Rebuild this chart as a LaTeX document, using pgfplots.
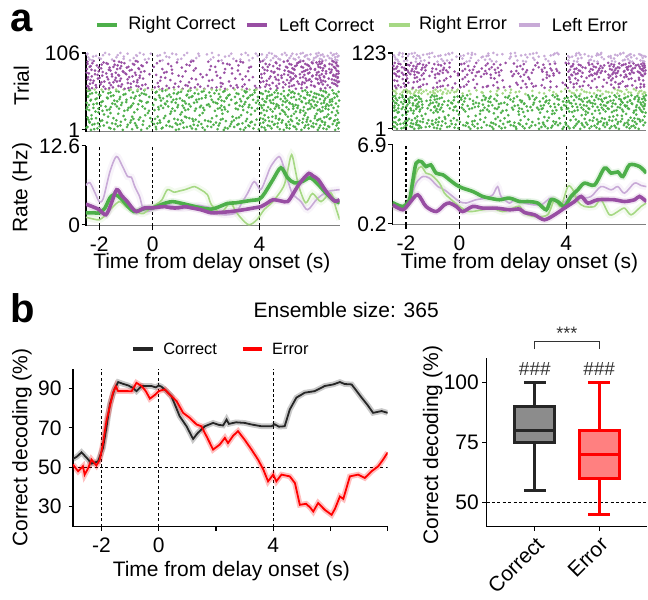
\documentclass[border=0pt]{standalone}
\usepackage{fontspec}
\setmainfont{Liberation Sans}
\usepackage{pgfplots}
\pgfplotsset{compat=1.18}
\usepgfplotslibrary{statistics}
\usepackage{pgfplotstable}

\definecolor{rc}{RGB}{77,175,74}
\definecolor{lc}{RGB}{152,78,163}
\definecolor{re}{RGB}{166,216,132}
\definecolor{le}{RGB}{200,170,215}
\definecolor{boxgray}{RGB}{140,140,140}
\definecolor{boxpink}{RGB}{255,128,128}

\pgfplotsset{
  base/.style={scale only axis, axis lines*=left,
    axis line style={-, line width=0.6pt},
    tick align=outside, major tick length=2.2pt,
    tick style={line width=0.6pt, black},
    tick label style={font=\fontsize{10.5}{12}\selectfont}},
  tight y/.style={yticklabel style={inner sep=0.6pt}},
  vline/.style={black, line width=0.6pt, dash pattern=on 1.5pt off 1.2pt},
  dot/.style={only marks, mark=*, mark size=0.62pt, mark options={line width=0.1pt}},
  halo/.style={line width=3.5pt, opacity=0.13, smooth, tension=0.5},
  thick curve/.style={line width=1.8pt, smooth, tension=0.5},
  thin curve/.style={line width=0.8pt, smooth, tension=0.5},
}

% ---------- rate curves, panel a (left cell)
\pgfplotstableread{
t r
-2.5 1.9
-2.2 1.9
-2.0 1.9
-1.8 2.6
-1.6 4.3
-1.45 4.8
-1.3 4.6
-1.1 3.8
-0.9 2.8
-0.7 2.1
-0.5 2.3
-0.3 2.6
0 2.7
0.25 3.1
0.5 3.5
0.75 3.7
1.0 3.5
1.3 3.2
1.6 2.9
1.8 2.7
2.2 2.5
2.5 2.9
2.8 3.4
3.1 3.5
3.4 3.7
3.7 3.9
4.0 4.1
4.2 5.1
4.5 7.2
4.8 9.1
5.05 7.5
5.3 6.7
5.6 6.9
5.9 7.5
6.2 6.4
6.5 5.0
6.75 4.0
7.0 3.5
}\aLrc
\pgfplotstableread{
t r
-2.5 3.3
-2.2 2.8
-2.0 2.4
-1.75 1.6
-1.55 3.4
-1.35 5.6
-1.15 4.6
-0.95 3.7
-0.75 2.6
-0.6 2.1
-0.3 2.7
0 2.7
0.2 2.8
0.45 2.9
0.7 2.7
0.95 2.7
1.2 2.9
1.45 2.7
1.8 2.4
2.2 1.9
2.6 2.0
2.9 2.1
3.4 2.4
3.8 2.7
4.05 2.9
4.3 3.5
4.5 4.0
4.8 3.8
5.05 3.7
5.25 4.9
5.45 6.3
5.65 7.4
5.85 8.2
6.0 7.8
6.2 7.2
6.5 5.3
6.8 3.8
7.0 4.0
}\aLlc
\pgfplotstableread{
t r
-2.5 1.2
-2.2 0.9
-2.0 0.8
-1.8 1.4
-1.55 2.6
-1.25 3.7
-1.0 2.9
-0.75 2.3
-0.5 1.9
-0.35 1.8
-0.05 2.7
0.15 3.3
0.35 4.0
0.55 5.6
0.8 5.2
1.0 5.4
1.2 5.6
1.4 5.9
1.57 6.1
1.8 5.6
2.05 4.8
2.2 3.2
2.55 1.9
2.9 3.5
3.1 2.2
3.3 1.1
3.6 0.0
3.9 0.8
4.17 2.4
4.5 3.7
4.9 6.1
5.05 8.6
5.2 11.2
5.35 8.5
5.47 6.1
5.73 3.5
5.98 5.0
6.3 3.7
6.67 5.1
6.85 2.8
7.0 0.8
}\aLre
\pgfplotstableread{
t r
-2.5 6.3
-2.35 6.7
-2.15 5.0
-2.0 3.7
-1.85 4.2
-1.6 8.5
-1.36 10.9
-1.15 9.5
-0.94 7.7
-0.8 7.6
-0.67 6.1
-0.49 4.5
-0.37 2.7
-0.2 2.1
0.2 2.9
0.5 3.3
0.8 2.9
1.1 2.6
1.4 2.8
1.7 3.1
1.95 2.9
2.17 2.7
2.4 2.0
2.67 1.6
3.1 1.9
3.35 3.6
3.55 5.0
3.8 6.9
4.04 5.6
4.25 7.5
4.42 9.3
4.73 10.9
4.9 9.3
5.05 7.2
5.23 5.0
5.55 3.7
5.8 2.4
6.17 4.2
6.55 5.3
7.0 5.6
}\aLle

% ---------- rate curves, panel a (right cell)
\pgfplotstableread{
t r
-2.5 2.0
-2.12 1.67
-1.87 2.24
-1.75 3.8
-1.62 5.35
-1.43 5.48
-1.25 5.06
-1.07 5.2
-0.87 4.5
-0.62 4.36
-0.37 3.93
-0.12 3.5
0.12 3.23
0.5 2.94
0.87 2.52
1.12 2.38
1.5 2.24
1.87 2.38
2.25 2.09
2.56 2.09
2.93 1.96
3.25 1.39
3.43 2.24
3.68 2.09
3.93 1.67
4.18 2.52
4.43 3.08
4.68 3.65
5.06 3.5
5.43 4.92
5.68 4.5
5.93 4.6
6.12 4.21
6.37 5.2
6.74 5.06
7.0 4.5
}\aRrc
\pgfplotstableread{
t r
-2.5 1.81
-2.12 1.39
-1.87 1.96
-1.56 2.66
-1.25 1.67
-0.87 1.24
-0.56 1.81
-0.37 1.96
-0.12 1.67
0.12 1.24
0.5 1.67
0.87 1.53
1.37 1.53
1.87 1.39
2.25 1.45
2.43 1.16
2.81 0.96
3.18 0.54
3.56 0.96
3.93 1.53
4.31 2.09
4.56 2.52
4.81 1.96
5.18 2.24
5.8 2.24
6.18 2.09
6.56 2.24
6.74 2.52
7.0 2.09
}\aRlc
\pgfplotstableread{
t r
-2.5 1.67
-2.12 1.5
-1.87 2.09
-1.62 4.5
-1.43 5.06
-1.25 4.5
-1.06 4.36
-0.75 3.65
-0.56 2.8
-0.37 2.38
0 1.67
0.37 1.24
0.87 1.39
1.25 1.5
1.62 1.24
2.0 1.53
2.25 1.7
2.43 1.1
2.81 0.82
3.3 0.96
3.56 2.24
3.8 1.67
4.06 3.36
4.25 3.08
4.43 2.09
4.68 1.67
5.06 1.67
5.3 2.24
5.62 0.96
5.93 1.24
6.18 1.53
6.43 0.96
6.8 1.67
7.0 1.96
}\aRre
\pgfplotstableread{
t r
-2.5 1.67
-2.12 1.5
-1.87 2.24
-1.62 3.65
-1.37 4.21
-1.12 4.07
-0.81 3.36
-0.56 3.08
-0.25 2.52
0 2.09
0.25 1.96
0.62 2.24
1.0 2.38
1.25 2.66
1.43 3.36
1.56 2.52
1.87 1.96
2.06 2.24
2.43 1.96
2.8 1.81
3.1 1.85
3.43 2.38
3.8 1.81
4.18 2.52
4.56 2.38
4.93 2.52
5.3 3.36
5.68 3.08
5.93 3.36
6.18 2.8
6.55 3.65
6.8 3.45
7.0 3.36
}\aRle

% ---------- decoding, panel b
\pgfplotstableread{
t v
-3.0 54.2
-2.85 55.5
-2.7 57.6
-2.5 54.5
-2.35 51.9
-2.12 53.0
-1.95 59.8
-1.83 70
-1.71 81.9
-1.55 89.5
-1.42 93.2
-1.25 92.3
-1.07 91.5
-0.9 90.2
-0.78 88.6
-0.6 91.2
-0.26 91.2
-0.1 90.5
0 91.5
0.1 90.8
0.27 88.6
0.44 86.1
0.6 80.5
0.73 75.9
0.97 70.8
1.2 64.4
1.37 67.5
1.61 70.8
1.9 72.5
2.1 71.5
2.25 71.2
2.37 74.2
2.45 72.0
2.7 72.8
3.0 72.5
3.24 71.7
3.59 70.8
3.94 70.8
4.05 71.8
4.2 70.6
4.4 70.8
4.58 79.3
4.81 85.3
5.1 87.8
5.45 88.6
5.8 91.2
6.1 92
6.33 93.2
6.5 92.2
6.74 92.0
7.09 85.3
7.3 81.5
7.49 77.6
7.79 78.5
8.0 77.6
}\dC
\pgfplotstableread{
t v
-3.0 51.4
-2.82 48.0
-2.65 50.5
-2.59 46.3
-2.47 49.5
-2.35 53.9
-2.18 50.9
-2.06 53.9
-1.95 62
-1.83 73.4
-1.6 87.8
-1.5 91
-1.42 88.6
-1.07 88.6
-0.95 88.5
-0.78 92.8
-0.6 91.2
-0.45 88.5
-0.31 84.8
-0.15 86.5
0 88.6
0.21 89.5
0.38 86.9
0.62 83.6
0.85 77.6
1.08 75.1
1.32 71.7
1.49 70.8
1.67 65.7
1.9 59.0
2.13 61.5
2.31 64.9
2.42 62.3
2.6 66
2.77 68.3
3.0 64.0
3.24 59.0
3.47 53.9
3.65 49
3.82 42.9
4.0 46.3
4.11 42.9
4.29 46.3
4.58 45.4
4.76 42.0
4.93 31.0
5.15 31.5
5.3 29.5
5.4 27.6
5.57 31.9
5.8 28.5
6.04 25.9
6.16 29
6.33 35.2
6.45 34
6.68 45.4
6.97 46.3
7.2 44.6
7.44 48.0
7.67 50.5
7.84 53.9
8.0 57.5
}\dE

% ---------- spike rasters (trial, spike times in s)
\pgfplotstableread{
tr a b c d e f g h i j k l
1 -2.31 -1.12 -0.43 0.87 1.95 2.66 3.41 4.22 4.91 5.57 6.18 6.83
3 -2.07 -1.58 -0.21 0.34 1.47 2.81 3.77 4.45 5.12 5.84 6.39 6.95
5 -2.44 -0.96 0.12 0.73 1.28 2.19 3.05 4.08 4.67 5.33 6.02 6.61
7 -1.83 -1.21 -0.62 0.51 1.69 2.47 3.58 4.31 5.01 5.72 6.27 6.88
9 -2.18 -1.39 0.05 1.03 1.82 2.93 3.22 4.57 4.99 5.46 6.12 6.74
11 -2.36 -1.71 -0.84 0.28 1.14 2.37 3.66 4.14 4.83 5.61 6.45 6.97
13 -1.95 -0.35 0.61 1.52 2.08 2.74 3.49 4.36 5.22 5.91 6.33 6.79
15 -2.41 -1.03 -0.52 0.94 1.61 2.55 3.89 4.72 5.17 5.78 6.21 6.92
17 -2.12 -1.47 -0.09 0.42 1.37 2.22 3.13 4.03 4.61 5.39 6.07 6.66
19 -1.67 -0.77 0.19 1.21 nan 2.99 nan 4.48 5.06 nan 6.51 nan
21 -2.29 nan -0.28 nan 1.76 nan 3.31 4.19 nan 5.68 nan 6.85
23 nan -1.29 nan 0.66 nan 2.61 nan 4.77 5.29 nan 6.14 nan
25 -2.03 nan -0.69 nan 1.09 nan 3.54 nan 4.94 5.52 nan 6.71
27 -1.88 -1.06 -0.14 0.83 1.58 2.33 3.83 4.27 4.88 5.64 6.36 6.9
29 -2.47 -1.62 -0.57 0.23 1.33 2.71 3.19 4.41 5.09 5.81 6.24 6.58
31 -2.22 -0.91 0.39 1.17 1.89 2.52 3.71 4.09 4.73 5.42 6.04 6.77
33 -1.76 -1.34 -0.38 0.58 1.42 2.14 3.36 4.62 5.27 5.96 6.48 6.94
35 -2.39 -1.18 0.02 0.95 2.03 2.86 3.62 4.16 4.86 5.35 6.09 6.69
37 -2.09 -1.51 -0.73 0.46 1.24 2.42 3.09 4.52 5.14 5.74 6.31 6.86
39 -1.92 -0.99 -0.18 0.71 1.66 2.27 3.47 4.24 4.97 5.59 6.17 6.63
41 -2.33 -1.44 -0.48 0.31 1.11 2.58 3.94 4.39 5.03 5.87 6.42 6.98
43 -2.14 -1.24 0.08 0.89 1.73 2.46 3.27 4.11 4.79 5.49 6.26 6.72
45 -1.71 -0.81 0.27 1.36 1.98 2.77 3.58 4.59 5.19 5.66 6.11 6.81
47 -2.42 -1.56 -0.64 0.54 1.49 2.17 3.39 4.29 4.92 5.54 6.38 6.91
49 -2.01 -1.09 -0.25 0.62 1.29 2.88 3.73 4.46 5.08 5.79 6.22 6.6
51 -2.27 -1.66 -0.41 0.79 1.57 2.31 3.14 4.05 4.69 5.31 6.06 6.78
53 -1.86 -1.27 0.15 1.06 1.84 2.64 3.52 4.34 5.24 5.93 6.47 6.96
55 -2.35 -0.88 -0.31 0.49 1.41 2.39 3.81 4.63 5.11 5.71 6.29 6.73
2 -2.19 -1.44 -0.77 0.13 0.98 1.62 2.43 3.28 3.97 4.76 5.38 6.51
4 -2.48 -1.63 -0.58 0.37 1.16 1.87 2.71 3.47 4.18 5.02 5.68 6.23
6 -1.98 -1.31 -0.12 0.64 1.41 2.05 2.89 3.62 4.39 5.27 5.95 6.57
8 -2.26 -0.93 -0.37 0.92 1.54 2.28 3.17 3.83 4.54 5.14 5.82 6.44
10 -2.05 -1.52 -0.66 0.18 0.86 2.51 3.36 4.02 4.68 5.41 6.01 6.91
12 -2.37 -1.19 -0.03 0.59 1.73 2.17 2.96 3.71 4.47 5.09 5.76 6.35
14 -1.89 -1.36 -0.81 0.26 1.08 1.96 3.04 4.21 4.86 5.49 6.16 6.82
16 -2.29 -0.72 0.09 0.81 1.49 2.62 3.53 4.13 4.74 5.63 6.27 6.62
18 -2.44 nan -0.47 nan 1.26 nan 3.23 4.33 nan 5.81 nan 6.42
20 nan -1.09 nan 0.47 nan 2.39 nan 4.61 5.19 nan 6.08 nan
22 -1.82 nan nan 1.04 nan nan 3.68 nan 4.98 nan 6.57 nan
24 nan -1.58 -0.18 nan 1.87 nan nan 4.06 nan 5.72 nan 6.94
26 -2.14 nan nan 0.69 nan 2.81 nan 4.49 5.36 nan 6.29 nan
28 -2.38 -1.71 -0.94 0.07 1.22 1.93 2.59 3.39 4.16 4.84 5.53 6.18
30 -2.03 -1.26 -0.29 0.74 1.62 2.44 3.11 3.92 4.57 5.26 5.89 6.47
32 -2.45 -1.57 -0.83 0.21 0.93 1.77 2.68 3.59 4.32 5.01 5.66 6.36
34 -1.94 -0.79 0.31 1.12 1.81 2.57 3.26 4.07 4.71 5.44 6.13 6.59
36 -2.22 -1.41 -0.54 0.48 1.36 2.09 3.43 3.99 4.64 5.23 5.92 6.52
38 -2.47 -1.15 -0.23 0.86 1.55 2.36 3.14 3.87 4.43 5.12 5.84 6.41
40 -1.87 -1.33 -0.42 0.54 1.19 2.68 3.31 4.19 4.88 5.57 6.04 6.72
42 -2.31 -0.98 0.12 0.77 1.63 2.21 2.94 3.76 4.51 5.37 5.97 6.64
44 -2.09 -1.68 -0.69 0.39 1.02 1.84 2.76 3.54 4.27 4.96 5.71 6.46
46 -2.42 -1.22 -0.13 0.68 1.45 2.53 3.08 3.94 4.67 5.29 6.02 6.55
48 -1.96 -1.47 -0.49 0.24 1.27 1.99 2.83 3.65 4.38 5.06 5.88 6.33
50 -2.35 -1.02 -0.32 0.91 1.71 2.48 3.21 4.12 4.81 5.46 6.14 6.87
52 -2.12 -1.58 -0.74 0.11 0.96 2.12 3.48 3.82 4.56 5.18 5.79 6.49
54 -2.43 -1.36 -0.57 0.36 1.33 1.91 2.69 3.44 4.23 4.91 5.61 6.39
}\sLrc
\pgfplotstableread{
tr a b c d e f g h i j k l
56 -2.43 -1.91 -1.37 -0.82 -0.29 0.26 0.81 1.38 1.93 2.52 3.07 3.63
56 -2.17 -1.64 -1.09 -0.56 -0.02 0.54 1.09 1.66 2.21 2.79 3.34 3.88
}\sLre
\pgfplotstableread{
tr a b c d e f g h i j k l
57 -2.38 -1.77 -1.05 -0.44 0.36 1.12 1.93 2.71 3.52 4.41 5.36 6.29
59 -2.11 -1.49 -0.82 0.08 0.79 1.58 2.39 3.18 4.02 4.88 5.77 6.64
61 -2.45 -1.28 -0.61 0.52 1.31 2.07 2.92 3.83 4.63 5.21 6.04 6.91
63 -1.96 -1.15 -0.27 nan 1.69 nan 3.44 4.26 4.97 5.58 6.37 6.85
65 -2.24 -1.62 -0.93 0.19 nan 2.55 nan 4.49 5.11 5.69 6.19 6.72
67 -1.81 -1.34 -0.71 nan 1.04 nan 2.86 4.14 5.42 5.94 6.46 6.97
69 -2.33 -1.41 -0.57 0.66 nan 2.23 3.61 4.71 5.03 5.84 6.29 6.8
71 -2.05 -1.19 -0.36 nan 1.46 nan 3.09 4.36 5.27 5.73 6.11 6.59
73 -2.42 -1.71 -0.88 0.31 1.87 nan 3.75 4.58 5.15 5.63 6.42 6.93
75 -1.89 -1.26 -0.48 nan 0.97 2.41 nan 4.82 5.34 5.99 6.24 6.76
77 -2.16 -1.53 -0.99 -0.12 nan 1.79 3.27 4.07 4.92 5.51 6.33 6.88
79 -2.47 -1.38 -0.66 0.43 nan 2.68 nan 4.53 5.19 5.87 6.15 6.65
81 -2.02 -1.12 -0.31 nan 1.23 nan 3.57 4.44 5.08 5.66 6.49 6.95
83 -2.29 -1.64 -0.79 0.72 nan 2.14 nan 4.19 5.31 5.79 6.07 6.7
85 -1.93 -1.22 -0.53 nan 1.61 2.97 nan 4.67 5.23 5.91 6.38 6.84
87 -2.36 -1.47 -0.91 0.04 nan 2.34 3.68 4.31 4.99 5.57 6.21 6.78
89 -2.09 -1.31 -0.42 nan 1.38 nan 3.21 4.76 5.39 5.82 6.44 6.9
91 -2.44 -1.68 -0.74 0.58 nan 2.79 nan 4.23 5.12 5.71 6.27 6.62
93 -1.84 -1.17 -0.22 nan 0.91 nan 3.38 4.61 5.46 5.96 6.13 6.87
95 -2.21 -1.44 -0.63 0.27 1.52 2.46 3.13 4.12 5.05 5.64 6.35 6.73
58 -2.27 -1.63 -0.91 -0.18 0.61 1.42 2.21 3.02 3.88 4.67 5.57 6.46
60 -2.41 -1.84 -1.19 -0.53 0.22 0.97 1.78 2.56 3.36 4.21 5.11 6.07
62 -2.13 -1.56 nan -0.39 nan 1.23 nan 3.14 4.37 5.29 5.93 6.55
64 -2.35 nan -0.82 nan 0.84 nan 2.62 nan 4.73 5.47 6.22 6.79
66 -1.92 -1.47 -0.58 nan 1.36 nan nan 4.04 4.89 5.61 6.31 6.93
68 -2.21 -1.23 nan 0.28 nan 2.11 nan 4.27 5.17 5.76 6.38 6.87
70 -2.44 -1.67 -0.94 nan 1.62 nan 3.36 4.62 5.21 5.88 6.17 6.71
72 -1.99 -1.38 -0.49 0.47 nan 2.53 nan 4.08 4.83 5.52 6.26 6.92
74 -2.28 -1.52 -0.76 nan 1.12 nan 3.48 4.41 5.36 5.97 6.41 6.84
76 -2.06 -1.29 -0.63 0.13 nan 2.02 nan 4.69 5.07 5.68 6.13 6.77
78 -2.39 -1.74 -1.02 nan 0.73 nan 2.97 4.18 5.26 5.82 6.49 6.96
80 -1.87 -1.09 -0.44 0.52 nan 2.37 nan 4.56 5.13 5.59 6.21 6.68
82 -2.16 -1.58 -0.86 nan 1.54 nan 3.19 4.29 4.94 5.72 6.36 6.89
84 -2.46 -1.33 -0.51 0.36 nan 2.71 nan 4.74 5.28 5.91 6.08 6.61
86 -2.02 -1.61 -0.97 nan 1.09 nan 3.61 4.12 5.04 5.63 6.28 6.82
88 -2.32 -1.18 -0.37 0.69 nan 2.18 nan 4.51 5.33 5.86 6.45 6.94
90 -1.91 -1.42 -0.69 nan 1.27 nan 2.88 4.37 5.19 5.78 6.19 6.71
92 -2.26 -1.73 -1.06 0.16 nan 2.63 nan 4.63 5.41 5.99 6.33 6.86
94 -2.44 -1.26 -0.56 nan 1.43 2.08 3.29 4.03 4.91 5.52 6.24 6.78
}\sLlc
\pgfplotstableread{
tr a b c d e f g h i j k l
96 -2.27 -0.85 0.37 1.46 2.58 3.61 4.42 5.06 5.53 6.02 6.48 6.91
98 -1.94 -1.09 -0.15 1.07 nan 3.02 nan 4.71 5.28 5.81 6.26 6.7
100 -2.41 -1.36 nan 0.62 nan 2.27 nan 4.26 nan 5.47 6.11 6.83
102 -2.12 -0.59 0.18 1.74 2.86 3.93 4.57 5.18 5.72 6.17 6.55 6.96
104 -2.46 -1.63 -0.34 0.88 2.03 3.32 4.09 4.84 5.39 5.91 6.36 6.79
106 -1.78 -1.21 -0.48 0.45 1.29 2.22 3.48 4.36 4.95 5.62 6.21 6.67
97 -2.36 -1.52 -0.29 0.94 2.17 3.28 4.18 4.77 5.34 5.86 6.33 6.84
99 -2.01 nan -0.71 nan 1.63 nan 3.74 4.51 5.12 nan 6.04 6.62
101 -2.23 -1.08 nan 0.51 nan 2.71 nan 4.63 nan 5.69 6.41 6.92
103 -1.86 -1.31 -0.62 0.27 1.18 2.47 3.57 4.28 5.01 5.78 6.29 6.74
105 -2.44 -0.94 -0.07 0.73 1.71 2.94 3.86 4.46 5.23 5.54 6.12 6.88
}\sLle
\pgfplotstableread{
tr a b c d e f g h i j k l
1 -2.34 -1.69 -0.72 0.41 1.27 2.13 2.98 3.86 4.52 5.24 5.97 6.71
3 -2.08 -1.43 -0.95 -0.18 0.83 1.71 2.62 3.44 4.28 5.13 5.86 6.58
5 -2.46 -1.84 -1.12 -0.37 0.56 1.49 2.37 3.21 4.07 4.94 5.69 6.44
7 -1.97 -1.55 -0.81 0.14 1.02 1.92 2.84 3.69 4.61 5.38 6.16 6.89
9 -2.21 -1.73 -1.03 -0.29 0.68 1.64 2.51 3.58 4.39 5.17 5.92 6.63
11 -2.39 -1.61 -0.89 0.27 1.19 2.06 3.13 3.97 4.74 5.52 6.28 6.95
13 -2.03 -1.47 -0.64 0.48 nan 1.88 nan 3.52 4.47 5.29 6.04 6.77
15 -2.27 -1.78 -1.16 -0.09 nan 2.29 nan 4.16 4.88 5.61 6.33 6.86
17 -1.89 -1.36 -0.53 nan 1.35 nan 2.96 nan 4.69 5.44 6.09 6.68
19 -2.43 nan -0.76 nan 0.97 nan 3.35 nan 5.03 nan 6.41 nan
21 nan -1.58 nan 0.33 nan 2.44 nan 4.27 nan 5.76 nan 6.93
23 -2.13 nan -0.41 nan 1.83 nan nan 4.58 nan 5.91 nan nan
25 nan -1.27 nan 0.77 nan nan 3.47 nan 4.97 nan 6.24 nan
27 -2.31 nan -0.97 nan 1.56 nan 3.02 nan 4.81 nan 6.52 6.97
29 -1.93 -1.49 -0.61 0.22 1.11 2.21 3.29 4.11 4.73 5.47 6.13 6.82
31 -2.37 -1.81 -1.07 -0.23 0.88 1.76 2.72 3.63 4.43 5.22 5.88 6.61
33 -2.16 -1.62 -0.85 0.37 1.41 2.34 3.08 4.02 4.86 5.59 6.35 6.91
35 -2.44 -1.39 -0.68 0.09 0.94 1.97 2.91 3.81 4.57 5.33 6.01 6.73
37 -1.99 -1.52 -0.92 -0.14 0.71 2.52 3.41 4.23 4.99 5.71 6.22 6.87
39 -2.28 -1.74 -1.14 -0.44 1.23 2.19 3.16 3.92 4.66 5.41 6.19 6.64
41 -2.11 -1.57 -0.77 0.52 1.48 2.42 3.55 4.36 5.08 5.84 6.47 6.94
43 -2.41 -1.87 -0.99 -0.31 0.62 1.68 2.79 4.13 4.91 5.53 6.11 6.78
45 -2.05 -1.41 -0.57 0.18 1.08 2.01 3.01 3.88 4.62 5.36 6.07 6.69
47 -2.33 -1.66 -1.09 -0.21 0.85 2.27 3.37 4.29 5.05 5.77 6.39 6.96
49 -1.91 -1.44 -0.83 0.39 1.31 2.63 3.67 4.48 5.21 5.98 6.55 6.84
51 -2.25 -1.76 -0.66 0.06 0.99 1.81 2.88 4.05 4.78 5.49 6.21 6.72
53 -2.47 -1.53 -0.94 -0.07 1.17 2.16 3.24 4.19 4.95 5.63 6.31 6.9
55 -2.14 -1.69 -1.02 0.29 1.42 2.57 3.49 4.33 5.14 5.81 6.44 6.98
2 -2.17 -1.52 -0.84 -0.04 0.69 1.58 2.44 3.31 4.13 4.87 5.63 6.37
4 -2.42 -1.77 -1.26 -0.46 0.35 1.22 2.11 3.07 3.91 4.68 5.45 6.26
6 -2.01 -1.49 -0.67 0.23 1.14 2.03 2.69 3.48 4.34 5.06 5.81 6.52
8 -2.33 -1.62 -0.99 -0.14 0.49 1.36 2.27 3.16 3.99 4.79 5.53 6.33
10 -2.09 -1.81 -1.21 -0.52 0.31 1.27 2.22 2.98 3.77 4.58 5.41 6.19
12 -2.46 -1.37 -0.78 0.02 0.92 1.81 2.73 3.62 4.45 5.21 5.94 6.57
14 -1.95 -1.58 -1.02 -0.32 0.57 1.53 nan 3.29 nan 4.99 5.72 6.48
16 -2.24 nan -0.87 nan 0.78 nan 2.58 nan 4.36 5.15 5.86 6.74
18 nan -1.66 nan -0.21 nan 1.69 nan 3.74 nan 5.34 nan 6.55
20 -2.38 nan -0.55 nan 1.44 nan 3.18 nan nan 5.62 nan nan
22 nan -1.41 nan nan 0.61 nan nan 3.92 nan nan 6.08 nan
24 -1.99 nan nan -0.02 nan 2.23 nan nan 4.73 nan nan 6.62
26 nan -1.73 nan nan 1.29 nan nan 3.56 nan 5.26 nan nan
28 -2.27 nan -0.81 nan nan 2.39 nan 4.22 nan 5.71 nan 6.86
30 -2.44 -1.71 -0.88 -0.09 0.79 1.62 2.56 3.49 4.31 5.08 5.79 6.54
32 -2.02 -1.47 -0.73 0.16 1.04 2.01 2.97 3.83 4.64 5.39 6.09 6.77
34 -2.29 -1.83 -1.19 -0.36 0.47 1.33 2.24 3.12 4.07 4.83 5.55 6.31
36 -2.11 -1.58 -0.94 -0.19 0.58 1.47 2.66 3.58 4.41 5.17 5.93 6.62
38 -2.43 -1.63 -0.79 0.31 1.09 2.07 3.05 3.99 4.76 5.48 6.27 6.93
40 -1.94 -1.39 -0.64 0.12 0.88 1.79 2.76 3.71 4.52 5.29 6.03 6.81
42 -2.36 -1.74 -1.08 -0.27 0.73 1.56 2.43 3.34 4.19 4.99 5.74 6.45
44 -2.18 -1.52 -0.86 -0.04 1.16 2.32 3.22 4.01 4.79 5.57 6.29 6.88
46 -2.47 -1.88 -1.23 -0.41 0.51 1.39 2.34 3.26 4.09 4.86 5.66 6.39
48 -2.06 -1.61 -0.92 0.07 0.96 1.91 2.82 3.73 4.56 5.31 6.04 6.71
50 -2.38 -1.49 -0.74 0.21 1.12 2.04 3.13 3.94 4.68 5.43 6.17 6.92
52 -2.13 -1.83 -1.07 -0.19 0.66 1.72 2.61 3.57 4.38 5.12 5.87 6.58
54 -2.41 -1.64 -0.85 0.13 0.91 1.86 2.74 3.67 4.49 5.27 5.98 6.66
}\sRrc
\pgfplotstableread{
tr a b c d e f g h i j k l
57 -2.22 -1.71 -1.18 -0.64 0.41 1.38 2.47 3.62 4.53 5.36 6.18 6.86
59 -1.95 -1.53 -0.97 -0.35 0.87 1.91 2.99 4.21 4.88 5.71 6.42 6.95
61 -2.41 -1.86 -1.34 -0.81 -0.12 1.16 2.24 3.81 4.67 5.49 6.07 6.74
63 -2.08 -1.62 -1.24 -0.71 -0.28 0.64 1.72 3.37 4.39 5.18 5.93 6.61
65 -2.35 -1.77 nan -0.53 nan 1.47 nan 3.96 nan 5.82 nan 6.53
58 -2.36 -1.83 -1.42 -0.92 -0.47 0.12 1.62 3.17 4.29 5.04 5.91 6.69
60 -2.13 -1.67 -1.09 -0.61 -0.19 0.83 2.11 3.52 4.76 5.58 6.33 6.92
62 -2.46 -1.94 -1.51 -0.98 -0.43 0.36 1.41 2.73 4.12 5.27 6.01 6.81
64 -1.99 -1.44 -0.89 nan -0.07 nan 1.93 nan 4.58 nan 6.26 nan
}\sRre
\pgfplotstableread{
tr a b c d e f g h i j k l
67 -2.37 -1.74 -0.98 -0.26 0.58 1.44 2.31 3.19 4.06 4.92 5.78 6.63
69 -2.04 -1.46 -0.71 0.17 1.03 1.89 2.77 3.64 4.51 5.37 6.22 6.91
71 -2.29 nan -0.43 nan 1.27 nan 3.08 nan 4.83 nan 6.47 nan
73 nan -1.22 nan 0.66 nan 2.48 nan 4.28 nan 5.96 nan 6.79
75 -1.91 nan -0.84 nan nan 2.13 nan 3.87 nan 5.52 nan nan
77 nan -1.58 nan 0.34 nan nan 3.41 nan 4.67 nan 6.11 nan
79 -2.43 nan -0.57 nan 1.62 nan nan 4.44 nan 5.68 nan 6.88
81 -2.12 -1.33 nan 0.12 nan 2.62 nan 4.13 5.07 nan 6.34 nan
83 nan -1.67 -0.91 nan 1.18 nan 3.27 nan 4.76 5.59 nan 6.72
85 -2.26 nan -0.33 0.81 nan 2.29 nan 4.57 nan 5.87 6.26 nan
87 -1.98 -1.41 nan -0.05 1.49 nan 3.53 4.22 4.98 nan 6.04 6.83
89 -2.39 -1.84 -0.76 nan 0.92 2.04 nan 4.36 5.14 5.73 6.39 6.94
91 -2.15 -1.52 -0.62 0.47 1.36 2.71 3.74 4.61 5.29 5.91 6.53 6.76
93 -2.31 -1.69 -1.03 -0.18 0.73 1.94 3.11 4.08 4.87 5.46 6.16 6.68
95 -1.94 -1.27 -0.49 0.38 1.57 2.53 3.46 4.47 5.21 5.82 6.44 6.97
97 -2.45 -1.77 -0.87 0.21 1.12 2.37 3.63 4.31 4.92 5.64 6.28 6.85
99 -2.07 -1.39 -0.58 nan 1.44 nan 3.19 4.72 5.36 5.99 6.57 6.91
101 -2.33 -1.61 nan 0.56 nan 2.16 nan 4.18 5.03 5.77 6.33 6.74
103 -1.87 -1.24 -0.69 nan 0.99 nan 2.84 4.54 5.42 6.08 6.61 6.93
105 -2.21 -1.56 -0.94 0.07 1.29 2.41 3.39 4.26 4.97 5.69 6.22 6.81
107 -2.42 -1.81 -1.14 -0.37 0.63 1.73 2.92 3.98 4.83 5.57 6.36 6.89
68 -2.19 -1.52 -0.83 0.04 0.88 1.67 2.52 3.41 4.28 5.14 5.97 6.78
70 -2.41 nan -0.62 nan 1.07 nan 2.86 nan 4.62 nan 6.29 nan
72 nan -1.36 nan 0.27 nan 2.18 nan 3.96 nan 5.68 nan 6.91
74 -2.08 nan nan -0.16 nan nan 2.71 nan 4.39 nan 6.02 nan
76 nan -1.71 nan nan 1.41 nan nan 4.16 nan 5.84 nan nan
78 -2.33 nan -0.74 nan nan 2.37 nan nan 4.97 nan 6.58 nan
80 nan -1.48 nan 0.52 nan nan 3.13 nan nan 5.41 nan 6.73
82 -1.96 nan -0.49 nan 1.31 nan nan 4.34 nan 5.74 6.44 nan
84 nan -1.59 nan 0.21 nan 2.58 nan 4.11 5.22 nan 6.17 nan
86 -2.35 -1.12 nan 0.61 nan 1.99 3.37 nan 4.86 5.65 nan 6.87
88 -2.09 -1.68 -0.91 0.29 1.17 2.42 3.28 4.19 4.93 5.58 6.23 6.81
90 -2.44 -1.34 -0.81 -0.05 1.02 2.21 3.52 4.43 5.07 5.85 6.37 6.95
92 -1.91 -1.58 -0.43 0.66 1.48 2.49 3.27 4.29 5.16 5.77 6.46 6.72
94 -2.26 -1.79 -0.72 0.12 0.97 2.13 3.66 4.52 5.33 5.94 6.18 6.89
96 -2.04 -1.42 -0.61 0.51 1.33 2.76 3.09 4.14 4.99 5.71 6.31 6.83
98 -2.37 -1.63 -1.01 nan 0.84 nan 3.41 4.38 5.24 5.86 6.49 6.77
100 -2.15 -1.29 -0.37 nan 1.21 nan 2.97 4.61 5.11 5.93 6.26 6.94
102 -2.47 -1.72 nan 0.33 nan 2.28 nan 4.23 5.29 5.62 6.41 6.86
104 -1.93 -1.36 -0.79 nan 1.53 nan 3.14 4.47 4.86 5.79 6.14 6.69
106 -2.28 -1.49 -0.55 0.18 1.06 2.04 3.58 4.09 5.18 5.98 6.52 6.91
}\sRlc
\pgfplotstableread{
tr a b c d e f g h i j k l
109 -2.28 -1.63 -0.82 0.27 1.38 2.49 3.56 4.41 5.17 5.83 6.47 6.92
111 -1.96 -1.31 -0.46 0.71 nan 2.17 nan 4.08 4.86 nan 6.12 6.78
113 -2.39 nan -0.67 nan 1.14 nan 3.23 nan 5.41 nan 6.31 nan
115 nan -1.47 nan 0.43 nan 2.76 nan 4.57 nan 5.67 nan 6.86
117 -2.13 -1.72 -0.93 -0.11 0.88 1.92 2.97 4.22 4.96 5.58 6.25 6.97
119 -2.45 -1.58 -0.71 0.16 1.09 2.31 3.42 4.36 5.13 5.92 6.54 6.82
121 -1.89 -1.21 -0.38 0.59 1.61 2.64 3.71 4.69 5.29 6.03 6.41 6.73
123 -2.24 -1.67 -1.02 -0.27 0.47 1.27 2.08 2.89 3.66 4.47 5.31 6.14
110 -2.07 -1.44 -0.61 0.38 1.21 2.38 3.33 4.29 5.04 5.71 6.38 6.87
112 -2.32 nan -0.28 nan 0.96 nan 2.81 nan 4.92 nan 6.19 nan
114 nan -1.62 nan 0.11 nan 1.88 nan 4.44 nan 5.79 nan 6.64
116 -2.41 -1.13 nan 0.83 nan 2.54 nan 4.12 5.33 nan 6.43 nan
118 -1.93 -1.51 -0.79 0.04 1.02 2.11 3.18 4.07 4.83 5.66 6.29 6.91
120 -2.27 -1.36 -0.52 0.46 1.41 2.47 3.52 4.53 5.21 5.83 6.36 6.79
122 -2.12 -1.78 -1.12 -0.41 0.32 1.08 1.92 2.76 3.57 4.38 5.16 6.02
}\sRle

\begin{document}
\begin{tikzpicture}
\path (0,0) rectangle (324pt,299pt);

% ===== panel a, rasters
\begin{axis}[base, tight y, at={(43pt,233.15pt)}, anchor=south west, width=127pt, height=39.35pt,
  xmin=-2.5, xmax=7, ymin=-1.3, ymax=106, xtick=\empty,
  ytick={1,106}, yticklabels={1,106}, x axis line style={gray}]
\pgfplotsinvokeforeach{a,b,c,d,e,f,g,h,i,j,k,l}{
  \addplot[dot, rc] table[x=#1, y=tr] {\sLrc};
  \addplot[dot, re] table[x=#1, y=tr] {\sLre};
  \addplot[dot, lc] table[x=#1, y=tr] {\sLlc};
  \addplot[dot, le] table[x=#1, y=tr] {\sLle};
}
\addplot[vline] coordinates {(-2,-1.3) (-2,106)};
\addplot[vline] coordinates {(0,-1.3) (0,106)};
\addplot[vline] coordinates {(4,-1.3) (4,106)};
\end{axis}

\begin{axis}[base, tight y, at={(196.5pt,233.75pt)}, anchor=south west, width=127pt, height=38.75pt,
  xmin=-2.5, xmax=7, ymin=-1.4, ymax=123, xtick=\empty,
  ytick={1,123}, yticklabels={1,123}, x axis line style={gray}]
\pgfplotsinvokeforeach{a,b,c,d,e,f,g,h,i,j,k,l}{
  \addplot[dot, rc] table[x=#1, y=tr] {\sRrc};
  \addplot[dot, re] table[x=#1, y=tr] {\sRre};
  \addplot[dot, lc] table[x=#1, y=tr] {\sRlc};
  \addplot[dot, le] table[x=#1, y=tr] {\sRle};
}
\addplot[vline] coordinates {(-2,-1.4) (-2,123)};
\addplot[vline] coordinates {(0,-1.4) (0,123)};
\addplot[vline] coordinates {(4,-1.4) (4,123)};
\end{axis}

% ===== panel a, firing rates
\begin{axis}[base, tight y, at={(43pt,186pt)}, anchor=south west, width=127pt, height=40pt,
  xmin=-2.5, xmax=7, ymin=-0.16, ymax=12.6,
  xtick={-2,0,4}, xticklabels={-2,0,4},
  ytick={0,12.6}, yticklabels={0,12.6}, x axis line style={gray}]
\addplot[vline] coordinates {(-2,-0.16) (-2,12.6)};
\addplot[vline] coordinates {(0,-0.16) (0,12.6)};
\addplot[vline] coordinates {(4,-0.16) (4,12.6)};
\addplot[le, halo] table[x=t, y=r] {\aLle};
\addplot[re, halo] table[x=t, y=r] {\aLre};
\addplot[rc, halo] table[x=t, y=r] {\aLrc};
\addplot[lc, halo] table[x=t, y=r] {\aLlc};
\addplot[le, thin curve] table[x=t, y=r] {\aLle};
\addplot[re, thin curve] table[x=t, y=r] {\aLre};
\addplot[rc, thick curve] table[x=t, y=r] {\aLrc};
\addplot[lc, thick curve] table[x=t, y=r] {\aLlc};
\end{axis}

\begin{axis}[base, tight y, at={(196.5pt,186.5pt)}, anchor=south west, width=127pt, height=40pt,
  xmin=-2.5, xmax=7, ymin=0.115, ymax=6.9,
  xtick={-2,0,4}, xticklabels={-2,0,4},
  ytick={0.2,6.9}, yticklabels={0.2,6.9}, x axis line style={gray}]
\addplot[vline] coordinates {(-2,0.115) (-2,6.9)};
\addplot[vline] coordinates {(0,0.115) (0,6.9)};
\addplot[vline] coordinates {(4,0.115) (4,6.9)};
\addplot[le, halo] table[x=t, y=r] {\aRle};
\addplot[re, halo] table[x=t, y=r] {\aRre};
\addplot[rc, halo] table[x=t, y=r] {\aRrc};
\addplot[lc, halo] table[x=t, y=r] {\aRlc};
\addplot[le, thin curve] table[x=t, y=r] {\aRle};
\addplot[re, thin curve] table[x=t, y=r] {\aRre};
\addplot[rc, thick curve] table[x=t, y=r] {\aRrc};
\addplot[lc, thick curve] table[x=t, y=r] {\aRlc};
\end{axis}

% ===== panel b, decoding over time
\begin{axis}[base, at={(36.5pt,35.5pt)}, anchor=south west, width=157.5pt, height=79pt,
  xmin=-3, xmax=8, ymin=20, ymax=100,
  xtick={-2,0,2,4,6,8}, xticklabels={-2,0,,4,,},
  ytick={30,50,70,90}, yticklabels={30,50,70,90}]
\addplot[vline] coordinates {(-2,20) (-2,100)};
\addplot[vline] coordinates {(0,20) (0,100)};
\addplot[vline] coordinates {(4,20) (4,100)};
\addplot[vline] coordinates {(-3,50) (8,50)};
\addplot[black!85, line width=2.8pt, opacity=0.25] table[x=t, y=v] {\dC};
\addplot[red, line width=2.8pt, opacity=0.25] table[x=t, y=v] {\dE};
\addplot[black!85, line width=0.9pt] table[x=t, y=v] {\dC};
\addplot[red, line width=0.9pt] table[x=t, y=v] {\dE};
\end{axis}

% ===== panel b, box plots
\begin{axis}[base, at={(243.5pt,35.5pt)}, anchor=south west, width=80.5pt, height=84.5pt,
  xmin=-0.75, xmax=1.75, ymin=40, ymax=110.4, clip=false,
  boxplot/draw direction=y,
  yticklabel style={inner sep=1.5pt},
  xtick={0,1}, xticklabels={Correct,Error},
  xticklabel style={rotate=45, anchor=north east, inner sep=1.5pt},
  ytick={50,75,100}, yticklabels={50,75,100}]
\addplot[vline] coordinates {(-0.75,50) (1.75,50)};
\addplot[boxplot prepared={lower whisker=55, lower quartile=75, median=80,
    upper quartile=90, upper whisker=100, draw position=0,
    box extend=0.62, whisker extend=0.34},
  draw=black!85, fill=boxgray, line width=1.5pt] coordinates {};
\addplot[boxplot prepared={lower whisker=45, lower quartile=60, median=70,
    upper quartile=80, upper whisker=100, draw position=1,
    box extend=0.62, whisker extend=0.34},
  draw=red, fill=boxpink, line width=1.5pt] coordinates {};
\node[font=\fontsize{9.5}{10}\selectfont, text=black!80] at (axis cs:0,105.6) {\#\#\#};
\node[font=\fontsize{9.5}{10}\selectfont, text=black!80] at (axis cs:1,105.6) {\#\#\#};
\draw[black!80, line width=0.6pt] (axis cs:0,114) -- (axis cs:0,117.2) -- (axis cs:1,117.2) -- (axis cs:1,114);
\node[font=\fontsize{9}{10}\selectfont, text=black!80] at (axis cs:0.5,120.5) {***};
\end{axis}

% ===== texts
\node[anchor=base west, inner sep=0, font=\bfseries\fontsize{20}{20}\selectfont] at (5pt,283pt) {a};
\node[anchor=base west, inner sep=0, font=\bfseries\fontsize{20}{20}\selectfont] at (5pt,137.5pt) {b};

\begin{scope}[every node/.style={anchor=west, inner sep=0, font=\fontsize{9.1}{10}\selectfont}]
\draw[rc, line width=2pt] (48.5pt,286.5pt) -- (58.5pt,286.5pt);
\node at (64pt,286.5pt) {Right Correct};
\draw[lc, line width=2pt] (123.5pt,286.5pt) -- (133.5pt,286.5pt);
\node at (139.5pt,286.5pt) {Left Correct};
\draw[re, line width=2pt] (194.5pt,286.5pt) -- (205pt,286.5pt);
\node at (209.5pt,286.5pt) {Right Error};
\draw[le, line width=2pt] (259.5pt,286.5pt) -- (270pt,286.5pt);
\node at (276pt,286.5pt) {Left Error};
\end{scope}

\begin{scope}[every node/.style={anchor=west, inner sep=0, font=\fontsize{8.2}{9}\selectfont}]
\draw[black!85, line width=2pt] (66.5pt,124.5pt) -- (76.5pt,124.5pt);
\node at (81.5pt,124.5pt) {Correct};
\draw[red, line width=2pt] (121.5pt,124.5pt) -- (131pt,124.5pt);
\node at (136pt,124.5pt) {Error};
\end{scope}

\begin{scope}[every node/.style={inner sep=0, font=\fontsize{10.5}{12}\selectfont}]
\node[rotate=90] at (10.75pt,256pt) {Trial};
\node[rotate=90] at (11pt,205pt) {Rate (Hz)};
\node[anchor=base] at (106pt,164.5pt) {Time from delay onset (s)};
\node[anchor=base] at (260pt,164.5pt) {Time from delay onset (s)};
\node[anchor=base] at (173.25pt,140pt) {Ensemble size: 365};
\node[rotate=90] at (11pt,75pt) {Correct decoding (\%)};
\node[anchor=base] at (115.75pt,10.5pt) {Time from delay onset (s)};
\node[rotate=90] at (216.5pt,76.25pt) {Correct decoding (\%)};
\end{scope}
\end{tikzpicture}
\end{document}
